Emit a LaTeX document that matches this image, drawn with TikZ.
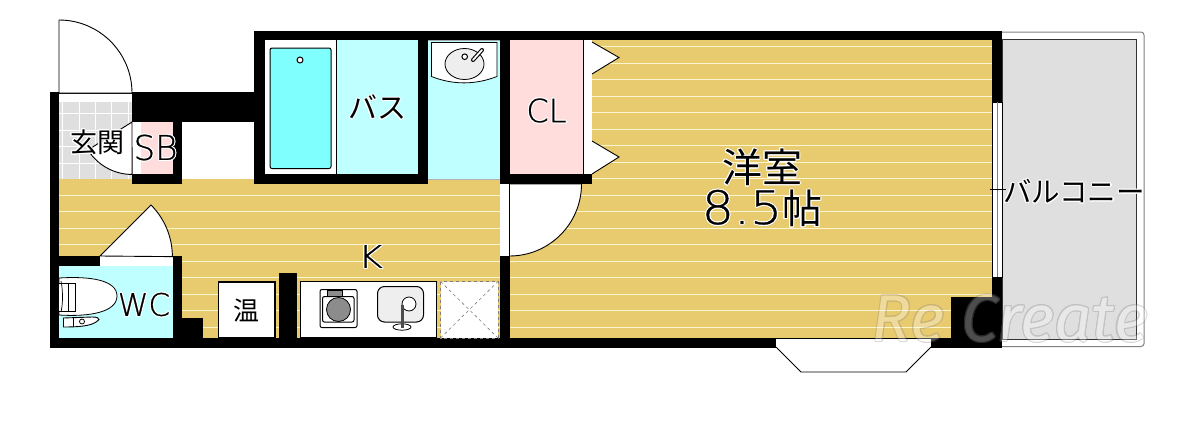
\documentclass[tikz,border=0pt]{standalone}
\usepackage{fontspec}
\usepackage{contour}
\setmainfont{Noto Sans CJK JP}
\newfontfamily\markfont{Fira Sans}
\newfontfamily\latinfont[FakeBold=0.7]{DejaVu Sans ExtraLight}
\contourlength{1pt}
\definecolor{floorcol}{HTML}{E8CA6F}
\definecolor{linecol}{HTML}{FFF6CF}
\definecolor{watercol}{HTML}{BFFFFF}
\definecolor{tubcol}{HTML}{80FFFF}
\definecolor{closetcol}{HTML}{FFDDDD}
\definecolor{tilecol}{HTML}{DFDFDF}
\definecolor{sinkcol}{HTML}{EEEEEE}
\tikzset{
    wall/.style={fill=black, draw=none},
    plain/.style={fill=white, draw=none},
    leaf/.style={fill=white, draw=black, line width=0.9pt},
    fitting/.style={fill=white, draw=black, line width=1pt, rounded corners=2pt},
    label/.style={inner sep=0pt, text=black},
}
\newcommand{\halo}[2]{\fontsize{#1}{#1}\selectfont\contour{white}{#2}}
\begin{document}
\begin{tikzpicture}[x=1pt, y=-1pt]
            \useasboundingbox (0, 0) rectangle (1198, 442);

            % balcony
            \draw[fill=white, draw=gray, line width=1pt, rounded corners=3pt] (990, 32) -- (1144, 32) -- (1144, 346.5) -- (990, 346.5) -- cycle;
            \draw[fill=tilecol, draw=black!80, line width=0.7pt] (1002, 39) rectangle (1136.5, 339.5);

            % floors
            \fill[floorcol] (59, 179) rectangle (500, 338);
            \fill[floorcol] (500, 40) rectangle (992, 338);
            \foreach \y in {46.5, 63, 79.5, 96, 112.5, 129, 145.5, 162}
                \draw[linecol, line width=1pt] (592, \y) -- (992, \y);
            \foreach \y in {195, 211.5, 228, 244.5, 261, 277.5, 294, 310.5, 327}
                \draw[linecol, line width=1pt] (59, \y) -- (992, \y);
            \draw[linecol, line width=1pt] (582, 178.5) -- (992, 178.5);

            % entrance
            \fill[tilecol] (59, 101) rectangle (132, 179);
            \foreach \x in {62.7, 79, 95.3, 111.7, 128}
                \draw[white, line width=1pt] (\x, 101) -- (\x, 179);
            \foreach \y in {113, 130, 146.5, 163}
                \draw[white, line width=1pt] (59, \y) -- (132, \y);
            \fill[white] (182, 122) rectangle (254, 179);

            % rooms
            \fill[closetcol] (141, 122) rectangle (173, 174);
            \fill[white] (132, 122) rectangle (141, 174);
            \fill[white] (265, 40) rectangle (336, 174);
            \fill[watercol] (336, 40) rectangle (418, 174);
            \fill[watercol] (428, 40) rectangle (500, 179);
            \fill[closetcol] (510, 40) rectangle (583, 174);
            \fill[white] (583, 40) rectangle (592, 174);
            \fill[watercol] (59, 266) rectangle (173, 338);
            \draw[black, line width=0.8pt] (336, 40) -- (336, 174);
            \draw[black, line width=0.6pt] (583, 40) -- (583, 174);
            \fill[black!35] (428, 40) rectangle (500, 41);
            \fill[black!30] (428, 178.5) rectangle (500, 179.5);

            % walls
            \fill[wall] (50, 92) rectangle (59, 348);
            \fill[wall] (50, 338) rectangle (1002, 348);
            \fill[wall] (254, 31) rectangle (1002, 40);
            \fill[wall] (992, 31) rectangle (1002, 102);
            \fill[wall] (992, 277) rectangle (1002, 348);
            \fill[wall] (951, 297) rectangle (1002, 348);
            \fill[wall] (132, 92) rectangle (264, 122);
            \fill[wall] (173, 122) rectangle (182, 184);
            \fill[wall] (132, 174) rectangle (182, 184);
            \fill[wall] (254, 31) rectangle (264.5, 184);
            \fill[wall] (254, 174) rectangle (428, 184);
            \fill[wall] (418, 31) rectangle (428, 184);
            \fill[wall] (500, 31) rectangle (510, 184);
            \fill[wall] (500, 174) rectangle (592, 184);
            \fill[wall] (500, 256) rectangle (510, 348);
            \fill[wall] (50, 256) rectangle (100, 266);
            \fill[wall] (173, 256) rectangle (182, 348);
            \fill[wall] (182, 318) rectangle (203, 338);
            \fill[wall] (279, 272.5) rectangle (297, 348);

            % openings
            \draw[plain] (59, 93) rectangle (132, 101.5);
            \draw[black, line width=0.7pt] (59, 93) -- (132, 93);
            \draw[plain] (100, 256) rectangle (173, 266);
            \draw[plain] (500, 184) rectangle (510, 256);
            \draw[plain] (776, 339) rectangle (931, 347);
            \draw[black, line width=0.7pt] (776, 338.5) -- (931, 338.5);
            \draw[black, line width=0.7pt] (776, 347) -- (931, 347);
            \draw[fill=white, draw=black, line width=0.8pt] (992.5, 102) rectangle (1002, 277);
            \draw[gray, line width=0.8pt] (997.5, 102) -- (997.5, 277);

            % doors
            \draw[leaf] (59, 93) -- (59, 20) arc[start angle=90, end angle=0, radius=73pt] -- cycle;
            \draw[leaf] (132, 122) -- (88, 150) arc[start angle=212, end angle=270, radius=52pt] -- cycle;
            \draw[leaf] (100, 256) -- (151, 205) arc[start angle=45, end angle=0, radius=73pt] -- cycle;
            \draw[leaf] (509.5, 256) arc[start angle=270, end angle=360, radius=72pt] -- (509.5, 184) -- cycle;
            \draw[leaf] (592, 42) -- (619, 57.5) -- (592, 74);
            \draw[leaf] (592, 141) -- (619, 157) -- (592, 174);
            \draw[leaf] (776, 347) -- (801, 372) -- (906, 372) -- (931, 347);

            % bath and basin
            \draw[fitting, fill=tubcol] (270, 48) rectangle (331, 168.5);
            \draw[fill=white, draw=black, line width=1pt] (300, 60) circle [radius=3pt];
            \draw[fill=white, draw=black, line width=0.8pt] (431.5, 42.5) -- (497, 42.5) -- (497, 76.5) .. controls (475, 85) and (453, 85) .. (431.5, 76.5) -- cycle;
            \draw[fill=sinkcol, draw=black, line width=0.8pt] (464.5, 64) ellipse [x radius=19.5pt, y radius=15.5pt];
            \draw[fill=white, draw=black, line width=1pt] (464.7, 56.7) circle [radius=2.8pt];
            \draw[black, line width=4pt, line cap=round] (473, 60) -- (482, 50);
            \draw[white, line width=1.8pt, line cap=round] (473, 60) -- (482, 50);

            % toilet
            \draw[fill=white, draw=black, line width=0.8pt] (59, 278) .. controls (90, 276) and (117, 280) .. (117, 296) .. controls (117, 312) and (90, 317) .. (59, 315) -- cycle;
            \draw[fill=white, draw=black, line width=0.8pt] (59, 283) -- (75, 283) -- (75, 311) -- (59, 311);
            \draw[black, line width=0.7pt] (68, 283) -- (68, 311);
            \draw[black, line width=0.7pt] (61, 281) .. controls (63, 290) and (63, 304) .. (61, 312);
            \draw[fill=white, draw=black, line width=0.9pt] (63.5, 318) -- (92, 317) .. controls (97, 317) and (99, 318) .. (99, 319.5) .. controls (94, 325) and (85, 327) .. (63.5, 327) -- cycle;
            \draw[black, line width=0.7pt] (73, 318) -- (73, 327);
            \draw[fill=white, draw=black, line width=0.8pt] (82, 321.5) circle [radius=2.5pt];

            % kitchen
            \draw[fill=white, draw=black, line width=1.2pt] (218.5, 282) rectangle (275, 338);
            \draw[fill=white, draw=black, line width=1.2pt] (300.5, 281.5) rectangle (436.5, 338);
            \draw[fill=white, draw=gray, dashed, line width=0.8pt] (440.5, 281.5) rectangle (498, 338);
            \draw[gray, dashed, line width=0.6pt] (440.5, 281.5) -- (498, 338);
            \draw[gray, dashed, line width=0.6pt] (440.5, 338) -- (498, 281.5);
            \draw[fitting] (320, 289.5) rectangle (357, 327.5);
            \draw[fitting] (322.5, 296.5) rectangle (354, 322);
            \draw[fill=gray!90, draw=black, line width=0.8pt] (327.5, 290) rectangle (342, 296);
            \draw[fill=gray!90, draw=black, line width=0.8pt] (338.5, 309.5) circle [radius=12pt];
            \draw[fill=sinkcol, draw=black, line width=1pt, rounded corners=7pt] (377.5, 286.5) rectangle (423.5, 322);
            \draw[fill=white, draw=black, line width=0.8pt] (409, 304) circle [radius=7pt];
            \draw[fill=white, draw=black, line width=0.8pt] (402, 327) ellipse [x radius=9pt, y radius=3.2pt];
            \draw[black!70, line width=3pt] (402, 305) -- (402, 328);

            % labels
            \node[label] (genkan) at (97, 143) {\halo{27}{玄関}};
            \node[label] (sb) at (155.5, 148) {\halo{34}{\latinfont SB}};
            \node[label] (bath) at (377, 108) {\halo{29}{バス}};
            \node[label] (closet) at (546.5, 111) {\halo{32}{\latinfont CL}};
            \node[label] (room) at (762, 168) {\halo{40}{洋室}};
            \node[label] (size) at (762, 209) {\halo{40}{\latinfont\fontsize{46}{46}\selectfont\scalebox{1.1}[1]{8.5}\rmfamily\fontsize{40}{40}\selectfont 帖}};
            \node[label] (kitchen) at (370.5, 257) {\halo{31}{\latinfont\scalebox{1.2}[1]{K}}};
            \node[label] (wc) at (144, 305) {\halo{31}{\latinfont WC}};
            \node[label] (boiler) at (246, 311) {\halo{26}{温}};
            \draw[black, line width=0.7pt] (990, 189) -- (1006, 189);
            \node[label] (balcony) at (1074, 192) {\halo{28.5}{バルコニー}};
            \begin{scope}[transparency group, opacity=0.3]
                \node[label, text=white] (mark) at (1010, 319) {\fontsize{66}{66}\markfont\itshape\contour{gray}{Re Create}};
            \end{scope}
\end{tikzpicture}
\end{document}
